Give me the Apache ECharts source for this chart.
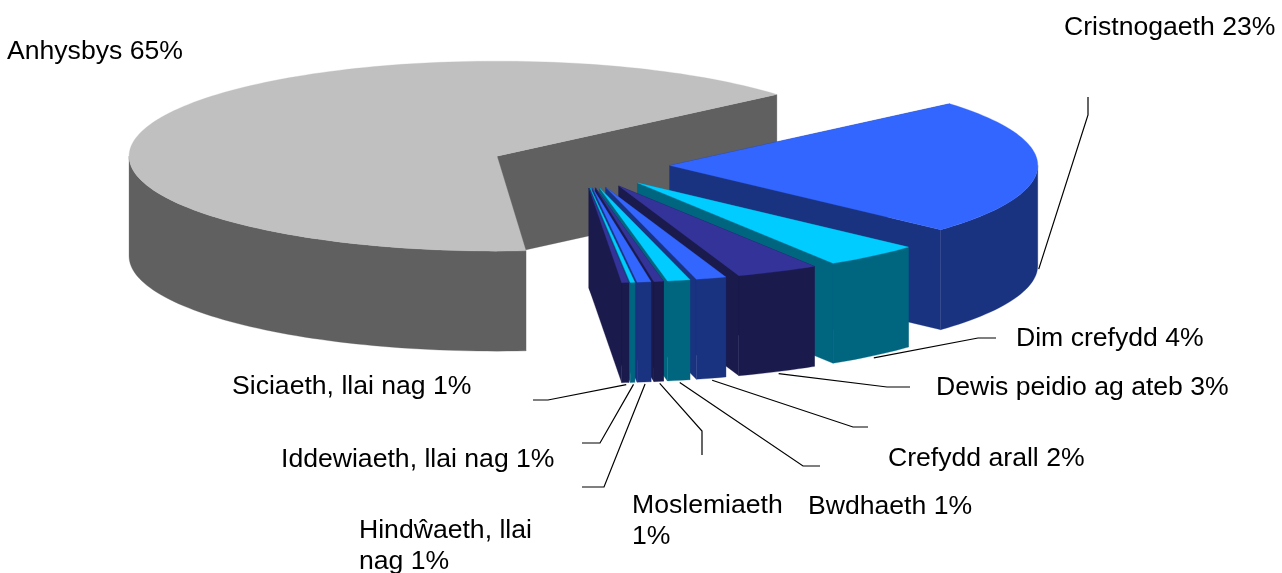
<!DOCTYPE html>
<html>
<head>
<meta charset="utf-8">
<style>
  html, body { margin: 0; padding: 0; background: #fff; }
  #main { width: 1282px; height: 573px; }
</style>
<script src="https://cdn.jsdelivr.net/npm/echarts@6/dist/echarts.min.js"></script>
</head>
<body>
<div id="main"></div>
<script>
// shares in percent (the labels round them)
var labels = ['Anhysbys 65%', 'Cristnogaeth 23%', 'Dim crefydd 4%', 'Dewis peidio ag ateb 3%', 'Crefydd arall 2%',
  'Bwdhaeth 1%', 'Moslemiaeth\n1%', 'Hindŵaeth, llai\nnag 1%', 'Iddewiaeth, llai nag 1%', 'Siciaeth, llai nag 1%'];
var shares = [65, 23.08, 4.25, 3.63, 1.33, 1, 0.42, 0.61, 0.2, 0.31];

var topColors = ['#C0C0C0', '#3366FF', '#00CCFF', '#333399', '#3366FF', '#00CCFF', '#333399', '#3366FF', '#00CCFF', '#333399'];
var wallColors = ['#606060', '#1A3380', '#006680', '#1A1A4D', '#1A3380', '#006680', '#1A1A4D', '#1A3380', '#006680', '#1A1A4D'];

// label placement, and the elbows of the leader lines
var labelPos = [[7, 51.5], [1064, 27.5], [1016, 339], [936, 388], [888, 458.5], [808, 506.5], [632, 521.5], [359, 546.5], [281, 459.5], [232, 387]];
var leaderBends = [
  null,
  [[1088, 115], [1088, 97]],
  [[978, 338], [996, 338]],
  [[887, 387], [910, 387]],
  [[853, 427], [868, 427]],
  [[803, 466], [820, 466]],
  [[702, 431], [702, 455]],
  [[604, 487], [582, 487]],
  [[600, 443], [582, 443]],
  [[548, 400], [533, 400]]
];

var cx = 580, cy = 165, rx = 368, ry = 95, depth = 100;
var explode = 0.244;
var startAngle = -85.5;

function rad(d) { return d * Math.PI / 180; }

function arcPoints(x0, y0, from, to) {
  var pts = [];
  var n = Math.max(2, Math.ceil(Math.abs(to - from) / 1.5));
  for (var k = 0; k <= n; k++) {
    var a = rad(from + (to - from) * k / n);
    pts.push([x0 + rx * Math.cos(a), y0 - ry * Math.sin(a)]);
  }
  return pts;
}

// start and end angle of a slice, going clockwise
function sliceAngles(idx, api) {
  var before = 0;
  for (var j = 0; j < idx; j++) before += shares[j];
  var from = startAngle - before / 100 * 360;
  var to = from - api.value(1) / 100 * 360;
  if (from < -180) { from += 360; to += 360; }
  return [from, to];
}

function renderSlice(params, api) {
  var idx = params.dataIndex;
  var ang = sliceAngles(idx, api);
  var from = ang[0], to = ang[1];
  var mid = (from + to) / 2;
  var x0 = cx + explode * rx * Math.cos(rad(mid));
  var y0 = cy - explode * ry * Math.sin(rad(mid));
  var top = topColors[idx], wall = wallColors[idx];
  var kids = [];

  function poly(pts, fill) {
    kids.push({ type: 'polygon', shape: { points: pts }, style: { fill: fill, stroke: fill, lineWidth: 0.3 } });
  }

  // the two cut faces
  [from, to].forEach(function (a) {
    var p = arcPoints(x0, y0, a, a)[0];
    poly([[x0, y0], p, [p[0], p[1] + depth], [x0, y0 + depth]], wall);
  });

  // outer wall: only the front half of the rim shows
  var a1 = Math.min(from, 0), a2 = Math.max(to, -180);
  if (a1 > a2) {
    var rim = arcPoints(x0, y0, a1, a2);
    var low = rim.map(function (p) { return [p[0], p[1] + depth]; }).reverse();
    poly(rim.concat(low), wall);
  }

  poly([[x0, y0]].concat(arcPoints(x0, y0, from, to)), top);

  return { type: 'group', children: kids };
}

function renderNotes(params, api) {
  var idx = params.dataIndex;
  var ang = sliceAngles(idx, api);
  var mid = (ang[0] + ang[1]) / 2;
  var kids = [];
  if (leaderBends[idx]) {
    // leader starts just under the slice's rim at its mid angle
    var x0 = cx + (explode * rx + rx) * Math.cos(rad(mid)) + 1;
    var y0 = cy - (explode * ry + ry) * Math.sin(rad(mid)) + depth + 2;
    kids.push({
      type: 'polyline',
      shape: { points: [[x0, y0]].concat(leaderBends[idx]) },
      style: { fill: null, stroke: '#000', lineWidth: 1.2 }
    });
  }
  kids.push({
    type: 'text',
    x: labelPos[idx][0], y: labelPos[idx][1],
    style: {
      text: labels[idx], fill: '#000', align: 'left', verticalAlign: 'middle',
      font: '26.6px "Liberation Sans", Arial, sans-serif', lineHeight: 31
    }
  });
  return { type: 'group', children: kids };
}

var seriesData = labels.map(function (name, i) { return { name: name, value: [i, shares[i]] }; });

var chart = echarts.init(document.getElementById('main'), null, { width: 1282, height: 573 });
chart.setOption({
  backgroundColor: '#fff',
  animation: false,
  series: [
    { type: 'custom', coordinateSystem: 'none', silent: true, z: 2, renderItem: renderSlice, data: seriesData },
    { type: 'custom', coordinateSystem: 'none', silent: true, z: 3, renderItem: renderNotes, data: seriesData }
  ]
});
</script>
</body>
</html>
